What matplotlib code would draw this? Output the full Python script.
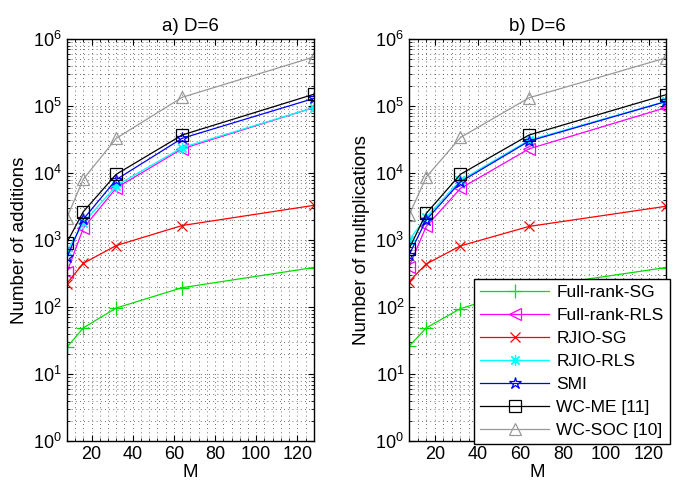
import numpy as np
import matplotlib
matplotlib.use('Agg')
import matplotlib.pyplot as plt
from matplotlib.ticker import FixedLocator, LogFormatterSciNotation, NullFormatter

plt.rcParams['font.family'] = ['Liberation Sans', 'DejaVu Sans']
plt.rcParams['mathtext.default'] = 'regular'

M = [8, 16, 32, 64, 128]

names = ['Full-rank-SG', 'Full-rank-RLS', 'RJIO-SG', 'RJIO-RLS', 'SMI',
         'WC-ME [11]', 'WC-SOC [10]']

# number of additions (left)
add_frsg = [25, 49, 97, 195, 390]
add_frrls = [330, 1500, 6000, 23000, 95000]
add_rjsg = [225, 450, 830, 1650, 3300]
add_rjrls = [680, 1800, 6500, 24000, 95000]
add_smi = [550, 2050, 8000, 33000, 130000]
add_wcme = [920, 2650, 9600, 37000, 150000]
add_wcsoc = [2150, 8100, 33000, 135000, 540000]

# number of multiplications (right)
mul_frsg = [26, 49, 95, 195, 390]
mul_frrls = [400, 1600, 5900, 23000, 95000]
mul_rjsg = [240, 440, 820, 1600, 3200]
mul_rjrls = [1000, 2200, 7800, 31000, 118000]
mul_smi = [600, 2000, 7400, 30000, 117000]
mul_wcme = [740, 2500, 9600, 37000, 148000]
mul_wcsoc = [2350, 8700, 34000, 133000, 525000]

colors = ['#00e000', '#ff00ff', '#ff0000', '#00ffff', '#0000ff', 'black', '#999999']
markers = ['+', '<', 'x', (8, 2, 0), '*', 's', '^']
msizes = [10, 9, 7, 8, 9, 8, 9]

xmajor = [20, 40, 60, 80, 100, 120]
ymajor = [1e0, 1e1, 1e2, 1e3, 1e4, 1e5, 1e6]


def panel(ax, series, title, ylabel):
    for vals, c, m, s, n in zip(series, colors, markers, msizes, names):
        ax.semilogy(M, vals, color=c, marker=m, mfc='none', mec=c, ms=s,
                    mew=0.9, lw=0.9, label=n)
    ax.set_xlim(8, 128)
    ax.set_ylim(1, 1e6)
    ax.xaxis.set_major_locator(FixedLocator(xmajor))
    ax.xaxis.set_minor_locator(FixedLocator(np.arange(12, 128, 4)))
    ax.xaxis.set_minor_formatter(NullFormatter())
    ax.yaxis.set_major_locator(FixedLocator(ymajor))
    ax.yaxis.set_major_formatter(LogFormatterSciNotation())
    yminor = [k * 10.0 ** e for e in range(6) for k in range(2, 10)]
    ax.yaxis.set_minor_locator(FixedLocator(yminor))
    ax.yaxis.set_minor_formatter(NullFormatter())
    ax.grid(True, which='both', linestyle=(0, (1, 4)), color='#444444', lw=0.6)
    ax.tick_params(which='both', direction='in', top=True, right=True, labelsize=13)
    ax.tick_params(which='major', length=4)
    ax.tick_params(which='minor', length=2)
    for s in ax.spines.values():
        s.set_linewidth(1.0)
    ax.set_title(title, fontsize=13.5)
    ax.set_xlabel('M', fontsize=13.5, labelpad=1)
    ax.set_ylabel(ylabel, fontsize=13.5)


fig = plt.figure(figsize=(6.75, 4.88), dpi=100)
ax1 = fig.add_axes([0.099, 0.096, 0.366, 0.824])
ax2 = fig.add_axes([0.606, 0.096, 0.381, 0.824])

panel(ax1, [add_frsg, add_frrls, add_rjsg, add_rjrls, add_smi, add_wcme, add_wcsoc],
      'a) D=6', 'Number of additions')
panel(ax2, [mul_frsg, mul_frrls, mul_rjsg, mul_rjrls, mul_smi, mul_wcme, mul_wcsoc],
      'b) D=6', 'Number of multiplications')

leg = ax2.legend(loc='lower left', bbox_to_anchor=(0.702, 0.090),
                 bbox_transform=fig.transFigure, fontsize=12.5, handlelength=4.0,
                 fancybox=False, framealpha=1, edgecolor='black',
                 borderpad=0.35, labelspacing=0.45, handletextpad=0.4,
                 borderaxespad=0)
leg.get_frame().set_linewidth(1.0)
leg.set_zorder(10)

fig.savefig('out.png', dpi=100)
